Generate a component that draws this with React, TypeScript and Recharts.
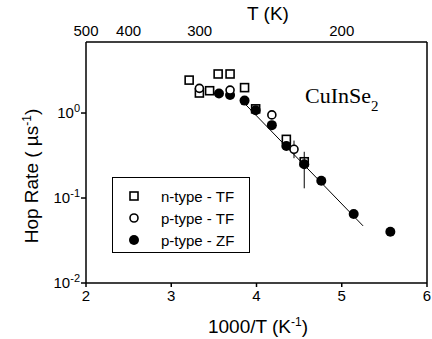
import React from 'react';
import {
  ScatterChart, Scatter, XAxis, YAxis, ErrorBar, Legend, Customized
} from 'recharts';

// hop rate (1/us) vs 1000/T (1/K)
const nTypeTF = [
  { x: 3.21, y: 2.44 }, { x: 3.33, y: 1.72 }, { x: 3.45, y: 1.83 },
  { x: 3.55, y: 2.88 }, { x: 3.69, y: 2.88 }, { x: 3.86, y: 1.99 },
  { x: 3.99, y: 1.12 }, { x: 4.35, y: 0.49 }, { x: 4.56, y: 0.267 },
];
const pTypeTF = [
  { x: 3.33, y: 1.95 }, { x: 3.69, y: 1.86 }, { x: 4.18, y: 0.95 }, { x: 4.44, y: 0.374 },
];
const pTypeZF = [
  { x: 3.56, y: 1.7 }, { x: 3.69, y: 1.63 }, { x: 3.86, y: 1.4 }, { x: 3.99, y: 1.08 },
  { x: 4.18, y: 0.72 }, { x: 4.35, y: 0.41 }, { x: 4.56, y: 0.25 }, { x: 4.76, y: 0.16 },
  { x: 5.14, y: 0.065 }, { x: 5.57, y: 0.04 },
];
const errPoints = [
  { x: 4.56, y: 0.267, err: [0.137, 0.083] },
  { x: 4.44, y: 0.374, err: [0.08, 0.1] },
  { x: 5.57, y: 0.04, err: [0.004, 0.005] },
];
const fitLine = [{ x: 3.81, y: 1.46 }, { x: 5.25, y: 0.047 }];

const xTicks = [2, 3, 4, 5, 6];
const xMinorTicks = [2.5, 3.5, 4.5, 5.5];
const yTicks = [0.01, 0.1, 1];
const yMinorTicks = [
  0.02, 0.03, 0.04, 0.05, 0.06, 0.07, 0.08, 0.09,
  0.2, 0.3, 0.4, 0.5, 0.6, 0.7, 0.8, 0.9,
  2, 3, 4, 5, 6,
];
const tempLabels = [500, 400, 300, 200];
const tempTicks = [450, 400, 350, 300, 250, 200];

const legendItems = [
  { name: 'n-type - TF', kind: 'square' },
  { name: 'p-type - TF', kind: 'open' },
  { name: 'p-type - ZF', kind: 'filled' },
];

const FONT = '"Liberation Sans", Arial, sans-serif';
const xDomain: [number, number] = [2, 6];
const yDomain: [number, number] = [0.01, 6.85];

const Square = (p: any) => (
  <rect x={p.cx - 4} y={p.cy - 4} width={8} height={8} fill="none" stroke="#000" strokeWidth={1.6} />
);
const OpenDot = (p: any) => (
  <circle cx={p.cx} cy={p.cy} r={4} fill="#fff" stroke="#000" strokeWidth={1.6} />
);
const FilledDot = (p: any) => <circle cx={p.cx} cy={p.cy} r={5} fill="#000" />;
const NoDot = () => <g />;

const markers: Record<string, (p: any) => React.ReactElement> = {
  square: Square, open: OpenDot, filled: FilledDot,
};

const PowerTick = (props: any) => {
  const { x, y, payload } = props;
  const exp = Math.round(Math.log10(payload.value));
  return (
    <text x={x} y={y} dy={5} textAnchor="end" fontSize={15} fontFamily={FONT} fill="#000">
      10<tspan dy={-6} fontSize={11}>{exp}</tspan>
    </text>
  );
};

const LegendBox = () => (
  <div style={{ border: '1.5px solid #000', boxSizing: 'border-box', width: 138, height: 76, paddingTop: 7, background: '#fff' }}>
    {legendItems.map(item => {
      const M = markers[item.kind];
      return (
        <div key={item.name} style={{ display: 'flex', alignItems: 'center', height: 22 }}>
          <svg width={44} height={22} style={{ display: 'block' }}>
            <M cx={21} cy={11} />
          </svg>
          <span style={{ fontFamily: FONT, fontSize: 15, marginLeft: 4 }}>{item.name}</span>
        </div>
      );
    })}
  </div>
);

const Titles = () => (
  <g fontFamily={FONT} fill="#000">
    <text x={268} y={20} fontSize={19} textAnchor="middle">T (K)</text>
    <text x={258} y={333} fontSize={19} textAnchor="middle">
      1000/T (K<tspan dy={-7} fontSize={12}>-1</tspan><tspan dy={7}>)</tspan>
    </text>
    <text x={38} y={176} fontSize={19} textAnchor="middle" transform="rotate(-90 38 176)">
      Hop Rate  ( µs<tspan dy={-7} fontSize={12}>-1</tspan><tspan dy={7}>)</tspan>
    </text>
    <text x={305} y={103} fontSize={22} fontFamily='"Liberation Serif", "Times New Roman", serif'>
      CuInSe<tspan dy={8} fontSize={15}>2</tspan>
    </text>
  </g>
);

export default function App() {
  return (
    <div style={{ position: 'absolute', left: 0, top: 0 }}>
      <ScatterChart width={432} height={339} margin={{ top: 41, right: 5, bottom: 54, left: 84 }}>
        <XAxis xAxisId="bottom" dataKey="x" type="number" domain={xDomain} allowDataOverflow
          ticks={xTicks} height={1} tickSize={4} tickMargin={3} stroke="#000" strokeWidth={1.5}
          tick={{ fontSize: 15, fontFamily: FONT, fill: '#000' }} />
        <XAxis xAxisId="bottomMinor" dataKey="x" type="number" domain={xDomain} allowDataOverflow
          ticks={xMinorTicks} height={1} tickSize={3} tick={false} axisLine={false} stroke="#000" />
        <XAxis xAxisId="top" dataKey="x" orientation="top" type="number" domain={xDomain} allowDataOverflow
          ticks={tempLabels.map(t => 1000 / t)} tickFormatter={(v: number) => String(Math.round(1000 / v))}
          height={1} tickSize={4} tickMargin={2} tickLine={false} stroke="#000" strokeWidth={1.5}
          tick={{ fontSize: 15, fontFamily: FONT, fill: '#000' }} />
        <XAxis xAxisId="topTicks" dataKey="x" orientation="top" mirror type="number" domain={xDomain} allowDataOverflow
          ticks={tempTicks.map(t => 1000 / t)} height={1} tickSize={4} tick={false} axisLine={false} stroke="#000" />
        <YAxis yAxisId="left" dataKey="y" type="number" scale="log" domain={yDomain} allowDataOverflow
          ticks={yTicks} width={1} tickSize={5} tickMargin={1} stroke="#000" strokeWidth={1.5}
          tick={<PowerTick />} />
        <YAxis yAxisId="leftMinor" dataKey="y" type="number" scale="log" domain={yDomain} allowDataOverflow
          ticks={yMinorTicks} width={1} tickSize={3} tick={false} axisLine={false} stroke="#000" />
        <YAxis yAxisId="right" dataKey="y" orientation="right" mirror type="number" scale="log" domain={yDomain} allowDataOverflow
          ticks={[...yTicks, ...yMinorTicks]} width={1} tickSize={3} tick={false} stroke="#000" strokeWidth={1.5} />

        {/* hidden series so the extra tick axes get a scale */}
        <Scatter data={fitLine} xAxisId="bottomMinor" yAxisId="leftMinor" shape={NoDot} isAnimationActive={false} legendType="none" />
        <Scatter data={fitLine} xAxisId="top" yAxisId="right" shape={NoDot} isAnimationActive={false} legendType="none" />
        <Scatter data={fitLine} xAxisId="topTicks" yAxisId="right" shape={NoDot} isAnimationActive={false} legendType="none" />

        <Scatter name="fit" data={fitLine} xAxisId="bottom" yAxisId="left" shape={NoDot}
          line={{ stroke: '#000', strokeWidth: 1 }} isAnimationActive={false} legendType="none" />
        <Scatter name="err" data={errPoints} xAxisId="bottom" yAxisId="left" shape={NoDot}
          isAnimationActive={false} legendType="none">
          <ErrorBar dataKey="err" direction="y" width={0} stroke="#000" strokeWidth={1} isAnimationActive={false} />
        </Scatter>
        <Scatter name="n-type - TF" data={nTypeTF} xAxisId="bottom" yAxisId="left" shape={Square} isAnimationActive={false} />
        <Scatter name="p-type - ZF" data={pTypeZF} xAxisId="bottom" yAxisId="left" shape={FilledDot} isAnimationActive={false} />
        <Scatter name="p-type - TF" data={pTypeTF} xAxisId="bottom" yAxisId="left" shape={OpenDot} isAnimationActive={false} />

        <Legend layout="vertical" align="center" verticalAlign="middle" content={() => <LegendBox />}
          wrapperStyle={{ left: 112, top: 177, width: 138, height: 76 }} />
        <Customized component={Titles} />
      </ScatterChart>
    </div>
  );
}
